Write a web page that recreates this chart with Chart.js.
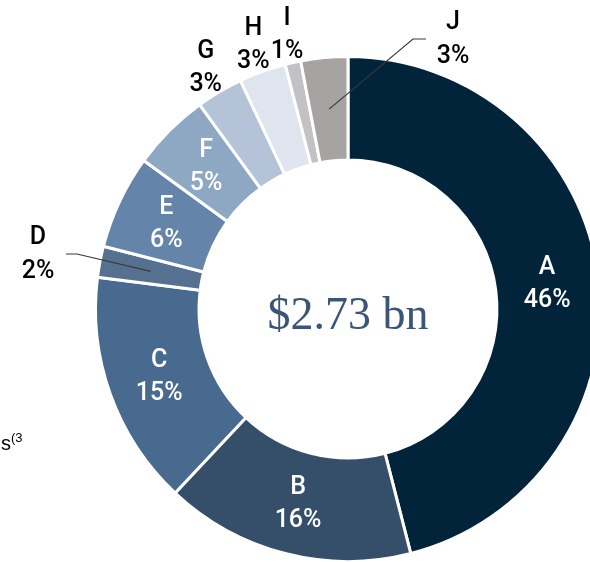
<!DOCTYPE html>
<html>
<head>
<meta charset="utf-8">
<script src="https://cdn.jsdelivr.net/npm/chart.js@4.4.1/dist/chart.umd.min.js"></script>
<style>
 html, body { margin: 0; padding: 0; background: #fff; overflow: hidden; width: 590px; height: 562px; }
 #wrap { position: absolute; left: 0; top: 0; width: 700px; height: 620px; }
 #note { position: absolute; left: 1px; top: 430px; font: 20px "Liberation Sans", Arial, sans-serif; color: #000; }
 #note sup { font-size: 13px; vertical-align: 8px; }
</style>
</head>
<body>
<div id="wrap"><canvas id="donut" width="700" height="620"></canvas></div>
<div id="note">s<sup>(3</sup></div>
<script>
// segment names and shares (%)
var labels = ["A", "B", "C", "D", "E", "F", "G", "H", "I", "J"];
var shares = [46, 16, 15, 2, 6, 5, 3, 3, 1, 3];
var colors = ["#02243A", "#354E6A", "#486A8F", "#56718F", "#6484AA",
              "#8EA8C4", "#B4C3D7", "#DEE5EF", "#C2C2C4", "#A7A3A2"];
var totalText = "$2.73 bn";

// which labels sit inside the ring (white) and which outside (black)
var inside = ["A", "B", "C", "E", "F"];

var labelFont = '500 25px Roboto, "Liberation Sans", sans-serif';

var sliceLabels = {
 id: 'sliceLabels',
 afterDatasetsDraw: function(chart) {
  var ctx = chart.ctx;
  var meta = chart.getDatasetMeta(0);
  ctx.save();
  ctx.textAlign = 'center';
  ctx.textBaseline = 'middle';
  ctx.font = labelFont;
  meta.data.forEach(function(arc, i) {
   var name = labels[i];
   var txt = shares[i] + '%';
   var p = arc.getProps(['x', 'y', 'startAngle', 'endAngle', 'innerRadius', 'outerRadius'], true);
   var mid = (p.startAngle + p.endAngle) / 2;
   var cx = p.x, cy = p.y;
   if (inside.indexOf(name) >= 0) {
    var c = arc.getCenterPoint();
    ctx.fillStyle = '#fff';
    ctx.fillText(name, c.x, c.y - 16);
    ctx.fillText(txt, c.x, c.y + 17);
    return;
   }
   ctx.fillStyle = '#000';
   if (name === 'D' || name === 'J') {
    // callout with leader line
    var r = (p.innerRadius + p.outerRadius) / 2;
    var ex = cx + Math.cos(mid) * r, ey = cy + Math.sin(mid) * r;
    var lx, ly, kx;
    if (name === 'J') { lx = cx + 105; ly = 40; kx = lx - 40; }
    else { lx = 38; ly = 255; kx = lx + 39; }
    ctx.strokeStyle = '#3a3a3a';
    ctx.lineWidth = 1.2;
    ctx.beginPath();
    ctx.moveTo(name === 'J' ? lx - 27 : lx + 28, ly - 1);
    ctx.lineTo(kx, ly - 1);
    ctx.lineTo(ex, ey);
    ctx.stroke();
    ctx.fillText(name, lx, ly - 17);
    ctx.fillText(txt, lx, ly + 17);
    return;
   }
   var rr = p.outerRadius + 27;
   var x = cx + Math.cos(mid) * rr, y = cy + Math.sin(mid) * rr;
   ctx.fillText(name, x, y - 17);
   ctx.fillText(txt, x, y + 16);
  });
  ctx.restore();
 }
};

var centerText = {
 id: 'centerText',
 afterDraw: function(chart) {
  var a = chart.getDatasetMeta(0).data[0];
  var ctx = chart.ctx;
  ctx.save();
  ctx.font = '46px "Liberation Serif", "DejaVu Serif", serif';
  ctx.fillStyle = '#3A5575';
  ctx.textAlign = 'center';
  ctx.textBaseline = 'middle';
  ctx.fillText(totalText, a.x, a.y + 8);
  ctx.restore();
 }
};

new Chart(document.getElementById('donut'), {
 type: 'doughnut',
 data: {
  labels: labels,
  datasets: [{
   data: shares,
   backgroundColor: colors,
   borderColor: '#fff',
   borderWidth: 3
  }]
 },
 options: {
  responsive: false,
  animation: false,
  cutout: '59%',
  layout: { padding: { left: 94, top: 55, right: 98, bottom: 57 } },
  plugins: {
   legend: { display: false },
   tooltip: { enabled: false }
  }
 },
 plugins: [sliceLabels, centerText]
});
</script>
</body>
</html>
